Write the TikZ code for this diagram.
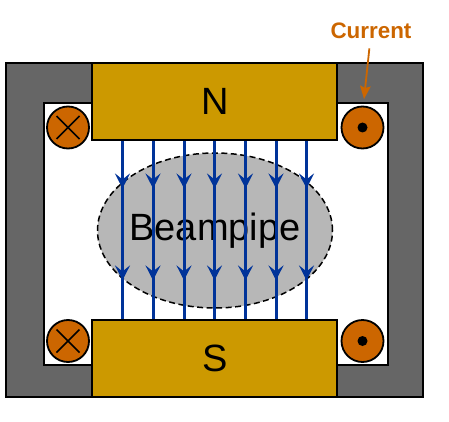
\documentclass[tikz,border=0pt]{standalone}
\usepackage{fontspec}
\setmainfont{Liberation Sans}
\usetikzlibrary{arrows.meta,decorations.markings,calc,shapes.geometric}
\definecolor{yoke}{HTML}{666666}
\definecolor{pole}{HTML}{CC9900}
\definecolor{coil}{HTML}{CC6600}
\definecolor{field}{HTML}{003399}
\definecolor{pipe}{HTML}{B7B7B7}
\tikzset{
  x=1pt,y=-1pt,
  polebox/.style={draw=black,line width=1.8pt,fill=pole,minimum width=245pt,minimum height=77pt,inner sep=0pt,font=\fontsize{38}{38}\selectfont},
  coilc/.style={circle,draw=black,line width=1.8pt,fill=coil,minimum size=42pt,inner sep=0pt},
  intoc/.style={coilc,path picture={\draw[line width=1.5pt] (path picture bounding box.center) ++(-11.5pt,-11.5pt) -- ++(23pt,23pt) (path picture bounding box.center) ++(11.5pt,-11.5pt) -- ++(-23pt,23pt);}},
  outc/.style={coilc,path picture={\fill[black] (path picture bounding box.center) circle (5pt);}},
  fieldline/.style={draw=field,line width=3pt,postaction={decorate},decoration={markings,
    mark=at position 0.267 with {\arrow{Stealth[length=15pt,width=15pt,inset=6pt]}},
    mark=at position 0.783 with {\arrow{Stealth[length=15pt,width=15pt,inset=6pt]}}}},
}
\begin{document}
\begin{tikzpicture}
\useasboundingbox (0,0) rectangle (449,422);
\draw[line width=1.8pt,fill=yoke] (6,63) rectangle (423,397);
\draw[line width=1.8pt,fill=white] (44,103) rectangle (388,365);
\node[ellipse,draw=black,fill=pipe,line width=1.5pt,dash pattern=on 6pt off 3.5pt,minimum width=235pt,minimum height=155pt,inner sep=0pt] (pipe) at (215,230.5) {};
\node[polebox] (N) at (214.5,101.5) {\hspace{2pt}N};
\node[polebox] (S) at (214.5,358.5) {\hspace{2pt}S};
\node[font=\fontsize{38}{38}\selectfont] (label) at (215,231) {Beampipe};
\foreach \i/\xx in {1/122.5,2/153,3/184,4/214.5,5/245.5,6/276,7/306.5}{
  \coordinate (t\i) at (\xx,0);
  \path[fieldline] (N.south -| t\i) -- (S.north -| t\i);
}
\node[intoc] (c1) at (68,127.5) {};
\node[outc] (c2) at (362.5,127.5) {};
\node[intoc] (c3) at (68,341) {};
\node[outc] (c4) at (362.5,341) {};
\node[font=\fontsize{22.4}{24}\selectfont\bfseries,text=coil] (cur) at (371,31) {Current};
\coordinate (curtip) at (364,99);
\draw[coil,line width=1.8pt,-{Stealth[length=13pt,width=10.5pt,inset=2pt]},shorten <=6pt] (cur.south) ++(-1,0) -- (curtip);
\end{tikzpicture}
\end{document}
